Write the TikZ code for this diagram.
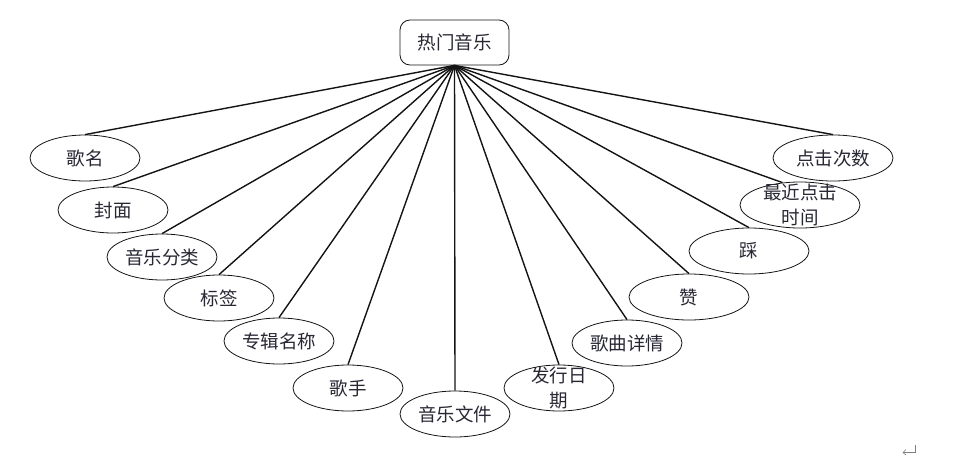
\documentclass[tikz,border=0pt]{standalone}
\usepackage{fontspec}
\setmainfont{Noto Sans CJK SC}
\usetikzlibrary{shapes.geometric}
\definecolor{txtc}{RGB}{40,40,52}
\definecolor{linec}{RGB}{20,20,20}
\begin{document}
\begin{tikzpicture}[x=1pt,y=-1pt,
  ell/.style={ellipse,draw=linec,line width=0.8pt,minimum width=110pt,minimum height=46pt,inner sep=0pt,fill=white},
  wide/.style={minimum width=120pt},
  txt/.style={text=txtc,font=\fontsize{18.5}{25}\selectfont,inner sep=0pt,align=center},
  hubbox/.style={draw=linec,line width=0.8pt,rounded corners=10pt,minimum width=109pt,minimum height=45pt,inner sep=0pt,fill=white},
  conn/.style={draw=linec,line width=1.4pt}]
\useasboundingbox (0,0) rectangle (977,455);

\node[hubbox] (rm) at (454.5,42.5) {};
\node[txt] (rmt) at (rm.center) {热门音乐};

\node[ell] (gm) at (85,158) {};
\node[ell] (fm) at (113,210) {};
\node[ell] (yl) at (162,257) {};
\node[ell] (bq) at (219,298) {};
\node[ell] (zj) at (279,341) {};
\node[ell] (gs) at (348,388) {};
\node[ell] (wj) at (455,414) {};
\node[ell] (fx) at (559,388) {};
\node[ell] (xq) at (627,343) {};
\node[ell,wide] (zan) at (689,297) {};
\node[ell,wide] (cai) at (749,251) {};
\node[ell,wide] (zd) at (800,205) {};
\node[ell,wide] (dj) at (833,158) {};

\foreach \n in {gm,fm,yl,bq,zj,gs,wj,fx,xq,zan,cai,dj}{
  \draw[conn] (rm.south) -- (\n.north);
}
\draw[conn] (rm.south) -- (zd.128);

\node[txt] (gmt) at (gm.center) {歌名};
\node[txt] (fmt) at (fm.center) {封面};
\node[txt] (ylt) at (yl.center) {音乐分类};
\node[txt] (bqt) at (bq.center) {标签};
\node[txt] (zjt) at (zj.center) {专辑名称};
\node[txt] (gst) at (gs.center) {歌手};
\node[txt] (wjt) at (wj.center) {音乐文件};
\node[txt] (fxt) at (fx.center) {发行日\\期};
\node[txt] (xqt) at (xq.center) {歌曲详情};
\node[txt] (zant) at (zan.center) {赞};
\node[txt] (cait) at (cai.center) {踩};
\node[txt] (zdt) at (zd.center) {最近点击\\时间};
\node[txt] (djt) at (dj.center) {点击次数};

\draw[gray,line width=0.6pt] (915,445) -- (915,452.5) -- (903,452.5);
\draw[gray,line width=0.6pt] (906,449.5) -- (903,452.5) -- (906,455);
\end{tikzpicture}
\end{document}
